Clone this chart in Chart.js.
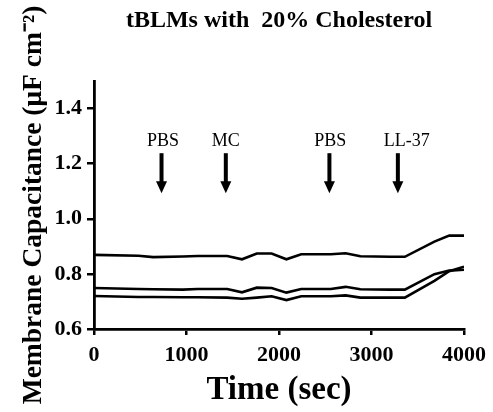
<!DOCTYPE html>
<html>
<head>
<meta charset="utf-8">
<script src="https://cdn.jsdelivr.net/npm/chart.js@4"></script>
<style>
  html, body { margin: 0; padding: 0; background: #fff; }
  #wrap { width: 493px; height: 412px; }
</style>
</head>
<body>
<div id="wrap"><canvas id="cap-chart"></canvas></div>
<script>
// time points (sec)
const times = [0, 480, 640, 960, 1120, 1440, 1600, 1760, 1920, 2080, 2240, 2560, 2720, 2880, 3200, 3360, 3680, 3840, 4000];
// three membrane capacitance traces (uF cm-2)
const upperTrace  = [0.869, 0.866, 0.861, 0.863, 0.865, 0.865, 0.853, 0.874, 0.874, 0.853, 0.871, 0.871, 0.875, 0.864, 0.862, 0.862, 0.917, 0.939, 0.939];
const middleTrace = [0.749, 0.745, 0.744, 0.743, 0.745, 0.745, 0.733, 0.750, 0.749, 0.732, 0.745, 0.745, 0.753, 0.744, 0.743, 0.743, 0.799, 0.812, 0.815];
const lowerTrace  = [0.720, 0.716, 0.716, 0.715, 0.715, 0.714, 0.710, 0.714, 0.719, 0.705, 0.719, 0.719, 0.722, 0.714, 0.714, 0.714, 0.775, 0.810, 0.826];

// additions marked with arrows
const arrowTimes  = [730, 1425, 2545, 3285];
const labelTimes  = [745, 1425, 2555, 3380];
const arrowLabels = ['PBS', 'MC', 'PBS', 'LL-37'];
const arrowTop = 1.238, arrowTip = 1.093, labelLevel = 1.283;

const chartTitle = 'tBLMs with  20% Cholesterol';
const serif = '"Liberation Serif", "Times New Roman", serif';

function toPoints(values){
    return values.map((v, i) => ({x: times[i], y: v}));
}

//title centred over the plot, plus the black arrows and their labels
const arrowPlugin = {
    id: 'arrows',
    afterDatasetsDraw(chart){
        const {ctx, chartArea, scales: {x, y}} = chart;
        ctx.save();
        ctx.fillStyle = '#000';
        ctx.strokeStyle = '#000';
        ctx.textAlign = 'center';
        ctx.textBaseline = 'middle';
        ctx.font = 'bold 24px ' + serif;
        ctx.fillText(chartTitle, (chartArea.left + chartArea.right) / 2, 21);

        arrowTimes.forEach((t, i) => {
            const px = x.getPixelForValue(t);
            const top = y.getPixelForValue(arrowTop);
            const tip = y.getPixelForValue(arrowTip);
            ctx.lineWidth = 4;
            ctx.beginPath();
            ctx.moveTo(px, top);
            ctx.lineTo(px, tip - 10);
            ctx.stroke();
            ctx.beginPath();
            ctx.moveTo(px - 5.5, tip - 12);
            ctx.lineTo(px + 5.5, tip - 12);
            ctx.lineTo(px, tip);
            ctx.closePath();
            ctx.fill();

            ctx.font = '18px ' + serif;
            ctx.fillText(arrowLabels[i], x.getPixelForValue(labelTimes[i]), y.getPixelForValue(labelLevel));
        });
        ctx.restore();
    }
};

const traceStyle = {borderColor: '#000', borderWidth: 2.6, pointRadius: 0, tension: 0, fill: false};

new Chart(document.querySelector('#cap-chart').getContext('2d'), {
    type: 'line',
    data: {
        datasets: [
            {label: 'upper', data: toPoints(upperTrace), ...traceStyle},
            {label: 'middle', data: toPoints(middleTrace), ...traceStyle},
            {label: 'lower', data: toPoints(lowerTrace), ...traceStyle}
        ]
    },
    options: {
        responsive: true,
        maintainAspectRatio: false,
        animation: false,
        layout: {padding: {left: 0, right: 26, top: 81, bottom: 0}},
        plugins: {
            legend: {display: false},
            tooltip: {enabled: false},
            title: {display: false}
        },
        scales: {
            x: {
                type: 'linear',
                min: 0,
                max: 4000,
                ticks: {stepSize: 1000, color: '#000', padding: 7, maxRotation: 0,
                        font: {family: serif, size: 22, weight: 'bold'},
                        callback: v => String(v)},
                grid: {display: true, drawOnChartArea: false, color: '#000', lineWidth: 2.5, tickLength: 6},
                border: {display: true, color: '#000', width: 2.8},
                title: {display: true, text: 'Time (sec)', color: '#000',
                        font: {family: serif, size: 33, weight: 'bold'}, padding: {top: 0, bottom: 2}},
                afterFit(scale){ scale.height = 83; }
            },
            y: {
                min: 0.6,
                max: 1.5,
                ticks: {stepSize: 0.2, color: '#000', padding: 5,
                        font: {family: serif, size: 22, weight: 'bold'},
                        callback: v => v.toFixed(1)},
                afterBuildTicks(scale){ scale.ticks = scale.ticks.filter(t => t.value <= 1.4001); },
                grid: {display: true, drawOnChartArea: false, color: '#000', lineWidth: 2.5, tickLength: 7},
                border: {display: true, color: '#000', width: 2.8},
                title: {display: true, text: 'Membrane Capacitance (\u03BCF cm\u207B\u00B2)', color: '#000',
                        font: {family: serif, size: 27.5, weight: 'bold'}, padding: {top: 17, bottom: 0}},
                afterFit(scale){ scale.width = 94; }
            }
        }
    },
    plugins: [arrowPlugin]
});
</script>
</body>
</html>
